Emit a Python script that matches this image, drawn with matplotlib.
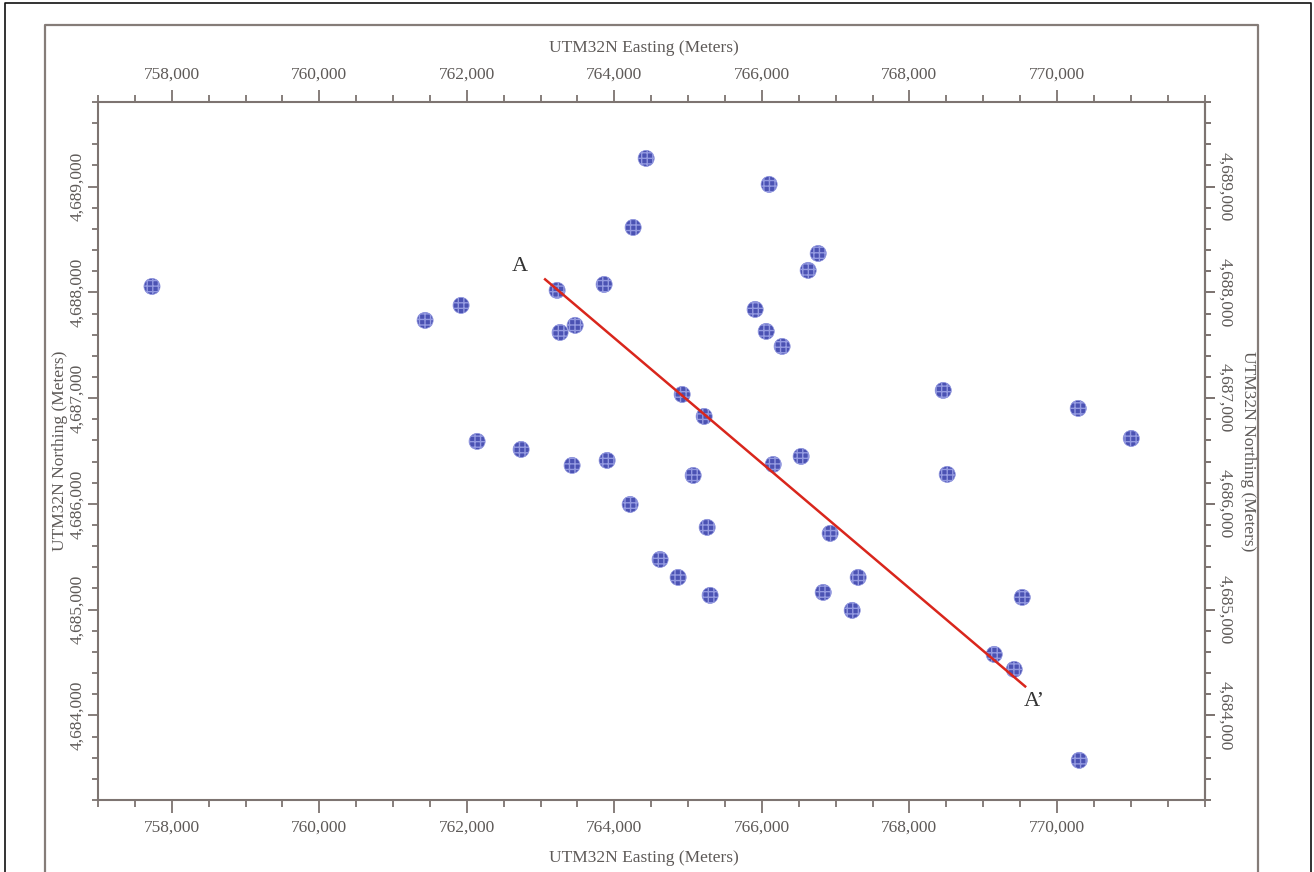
import matplotlib
matplotlib.use("Agg")
import matplotlib.pyplot as plt
from matplotlib.lines import Line2D
from matplotlib.ticker import FixedLocator, MultipleLocator, FuncFormatter

plt.rcParams['font.family'] = ['Liberation Serif', 'DejaVu Serif']

# Well locations (UTM32N, meters)
easting = [757732, 761434, 761922, 762139, 762736, 763224, 763264, 763468, 763427,
           763861, 763902, 764214, 764254, 764431, 764620, 764864, 764919, 765068,
           765217, 765258, 765298, 765908, 766058, 766098, 766153, 766274, 766532,
           766627, 766763, 766831, 766925, 767224, 767305, 768458, 768512, 769149,
           769420, 769529, 770288, 770302, 771007]
northing = [4688056, 4687735, 4687877, 4686591, 4686515, 4688019, 4687621, 4687688, 4686364,
            4688075, 4686411, 4685995, 4688614, 4689267, 4685475, 4685305, 4687035, 4686269,
            4686827, 4685778, 4685135, 4687839, 4687631, 4689021, 4686373, 4687489, 4686449,
            4688208, 4688368, 4685163, 4685721, 4684993, 4685305, 4687073, 4686279, 4684577,
            4684435, 4685116, 4686903, 4683575, 4686619]

# Cross-section line A - A'
section_e = [763061, 769569]
section_n = [4688123, 4684274]
section_labels = ["A", "A\u2019"]
label_e = [762722, 769692]
label_n = [4688245, 4684132]

xticks = [758000, 760000, 762000, 764000, 766000, 768000, 770000]
yticks = [4684000, 4685000, 4686000, 4687000, 4688000, 4689000]
xlim = (757000, 772000)
ylim = (4683200, 4689800)

txt = '#5e5a58'
spine = '#7d7471'

fig = plt.figure(figsize=(13.14, 8.72), dpi=100)
ax = fig.add_axes([98/1314, 1 - 800/872, (1204.5 - 98)/1314, (800 - 102)/872])

ax.scatter(easting, northing, s=135, facecolor='#4b52b3', edgecolor='#9399e0',
           linewidths=0.5, hatch='+++', zorder=3)
ax.plot(section_e, section_n, color='#d9261c', lw=1.8, zorder=4)
for lab, e, n in zip(section_labels, label_e, label_n):
    ax.text(e, n, lab, fontsize=16, color='#333333', ha='center', va='center', zorder=5)

ax.set_xlim(*xlim)
ax.set_ylim(*ylim)
fmt = FuncFormatter(lambda v, p: f"{v:,.0f}")

ax.xaxis.set_major_locator(FixedLocator(xticks))
ax.xaxis.set_minor_locator(MultipleLocator(500))
ax.yaxis.set_major_locator(FixedLocator(yticks))
ax.yaxis.set_minor_locator(MultipleLocator(200))
ax.xaxis.set_major_formatter(fmt)
ax.yaxis.set_major_formatter(fmt)

for s in ax.spines.values():
    s.set_color(spine)
    s.set_linewidth(1.5)

ax.tick_params(which='both', direction='out', color=spine, width=1.3,
               labelcolor=txt, labelsize=12.5)
ax.tick_params(axis='x', which='major', length=9, pad=5, top=True, labeltop=True)
ax.tick_params(axis='x', which='minor', length=5, top=True)
ax.tick_params(axis='y', which='major', length=7, pad=2, right=True, labelright=False,
               labelrotation=90)
ax.tick_params(axis='y', which='minor', length=4, right=True)
for t in ax.get_yticklabels():
    t.set_va('center')

sec = ax.secondary_yaxis('right')
sec.yaxis.set_major_locator(FixedLocator(yticks))
sec.yaxis.set_minor_locator(MultipleLocator(200))
sec.yaxis.set_major_formatter(fmt)
sec.spines['right'].set_color(spine)
sec.spines['right'].set_linewidth(1.5)
sec.tick_params(which='both', direction='out', color=spine, width=1.3,
                labelcolor=txt, labelsize=12.5)
sec.tick_params(which='major', length=7, pad=2, labelrotation=270)
sec.tick_params(which='minor', length=4)
for t in sec.get_yticklabels():
    t.set_va('center')

# axis titles
fig.text(644/1314, 1 - 858/872, "UTM32N Easting (Meters)", ha='center', va='center',
         fontsize=12.5, color=txt)
fig.text(644/1314, 1 - 48/872, "UTM32N Easting (Meters)", ha='center', va='center',
         fontsize=12.5, color=txt)
fig.text(60/1314, 1 - 451/872, "UTM32N Northing (Meters)", ha='center', va='center',
         rotation=90, fontsize=12.5, color=txt)
fig.text(1248/1314, 1 - 451/872, "UTM32N Northing (Meters)", ha='center', va='center',
         rotation=270, fontsize=12.5, color=txt)

# page borders
def fline(xs, ys, c, lw):
    fig.add_artist(Line2D([x/1314 for x in xs], [1 - y/872 for y in ys],
                          color=c, lw=lw, transform=fig.transFigure))

fline([4.5, 4.5, 1310.5, 1310.5], [900, 3.5, 3.5, 900], '#111111', 1.2)
fline([44.5, 44.5, 1258, 1258], [900, 25.5, 25.5, 900], '#857c78', 1.6)

fig.savefig("out.png", dpi=100)
